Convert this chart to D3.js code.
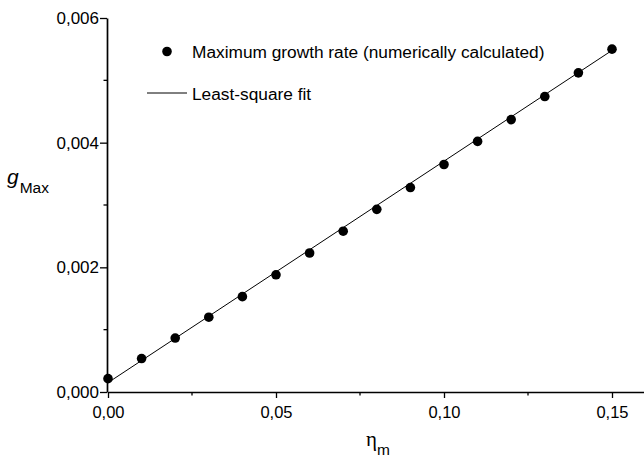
<!DOCTYPE html>
<html>
<head>
<meta charset="utf-8">
<script src="https://cdn.jsdelivr.net/npm/d3@7"></script>
<style>
  body { margin: 0; background: #fff; }
  svg { display: block; font-family: "Liberation Sans", Arial, sans-serif; }
</style>
</head>
<body>
<script>
// numerically calculated maximum growth rate
var etaValues = [0, 0.01, 0.02, 0.03, 0.04, 0.05, 0.06, 0.07, 0.08, 0.09, 0.10, 0.11, 0.12, 0.13, 0.14, 0.15];
var gMaxValues = [0.000214, 0.000537, 0.000866, 0.00120, 0.00153, 0.00188, 0.00223, 0.00258, 0.00293, 0.00328, 0.00365, 0.00402, 0.00437, 0.00474, 0.00512, 0.00550];
// least-square fit end points
var fitEta = [0, 0.15];
var fitG = [0.000150, 0.00548];

var xMajor = [0, 0.05, 0.10, 0.15];
var xMinor = [0.025, 0.075, 0.125];
var yMajor = [0, 0.002, 0.004, 0.006];
var yMinor = [0.001, 0.003, 0.005];

var legendLabels = ["Maximum growth rate (numerically calculated)", "Least-square fit"];

var w = 644, h = 457;
var svg = d3.select("body").append("svg").attr("width", w).attr("height", h);

var x = d3.scaleLinear().domain([0, 0.16]).range([108, 645.6]);
var y = d3.scaleLinear().domain([0, 0.006]).range([392, 18]);

function fmtX(d){ return d3.format(".2f")(d).replace(".", ","); }
function fmtY(d){ return d3.format(".3f")(d).replace(".", ","); }

// x axis
var xAxis = svg.append("g").attr("transform", "translate(0,392)");
xAxis.call(d3.axisBottom(x).tickValues(xMajor).tickFormat(fmtX).tickSize(6).tickSizeOuter(0));
xAxis.selectAll(".tick text").attr("font-size", 16.5).attr("dy", "1.05em").attr("fill", "#000");
xAxis.append("g").selectAll("line").data(xMinor).enter().append("line")
  .attr("x1", function(d){ return x(d); }).attr("x2", function(d){ return x(d); })
  .attr("y1", 0).attr("y2", 3.5).attr("stroke", "#000").attr("stroke-width", 1.3);

// y axis
var yAxis = svg.append("g").attr("transform", "translate(107,0)");
yAxis.call(d3.axisLeft(y).tickValues(yMajor).tickFormat(fmtY).tickSize(7).tickSizeOuter(0));
yAxis.selectAll(".tick text").attr("font-size", 17).attr("x", -8).attr("fill", "#000");
yAxis.append("g").selectAll("line").data(yMinor).enter().append("line")
  .attr("y1", function(d){ return y(d); }).attr("y2", function(d){ return y(d); })
  .attr("x1", 0).attr("x2", -3.5).attr("stroke", "#000").attr("stroke-width", 1.3);

svg.selectAll(".domain").attr("stroke", "#000").attr("stroke-width", 1.7);
svg.selectAll(".tick line").attr("stroke", "#000").attr("stroke-width", 1.3);

// fit line
var fitData = fitEta.map(function(d, i){ return [d, fitG[i]]; });
svg.append("path")
  .datum(fitData)
  .attr("d", d3.line().x(function(d){ return x(d[0]); }).y(function(d){ return y(d[1]); }))
  .attr("fill", "none").attr("stroke", "#000").attr("stroke-width", 1);

// points
svg.append("g").selectAll("circle")
  .data(etaValues.map(function(d, i){ return [d, gMaxValues[i]]; }))
  .enter().append("circle")
  .attr("cx", function(d){ return x(d[0]); })
  .attr("cy", function(d){ return y(d[1]); })
  .attr("r", 4.8)
  .attr("fill", "#000");

// legend
var legend = svg.append("g");
legend.append("circle").attr("cx", 167).attr("cy", 51.5).attr("r", 4.8).attr("fill", "#000");
legend.append("text").attr("x", 192).attr("y", 57.5).attr("font-size", 17.3).text(legendLabels[0]);
legend.append("line").attr("x1", 147).attr("x2", 187).attr("y1", 93).attr("y2", 93)
  .attr("stroke", "#000").attr("stroke-width", 1);
legend.append("text").attr("x", 192).attr("y", 99.5).attr("font-size", 17.3).text(legendLabels[1]);

// axis titles
var yTitle = svg.append("text").attr("x", 7).attr("y", 183.5);
yTitle.append("tspan").attr("font-size", 21).attr("font-style", "italic").text("g");
yTitle.append("tspan").attr("font-size", 15.5).attr("dy", 9.5).attr("dx", 1).text("Max");

var xTitle = svg.append("text").attr("x", 366).attr("y", 446);
xTitle.append("tspan").attr("font-size", 21).attr("font-family", "'Liberation Serif', 'Times New Roman', serif").text("η");
xTitle.append("tspan").attr("font-size", 15.5).attr("dy", 9).text("m");
</script>
</body>
</html>
